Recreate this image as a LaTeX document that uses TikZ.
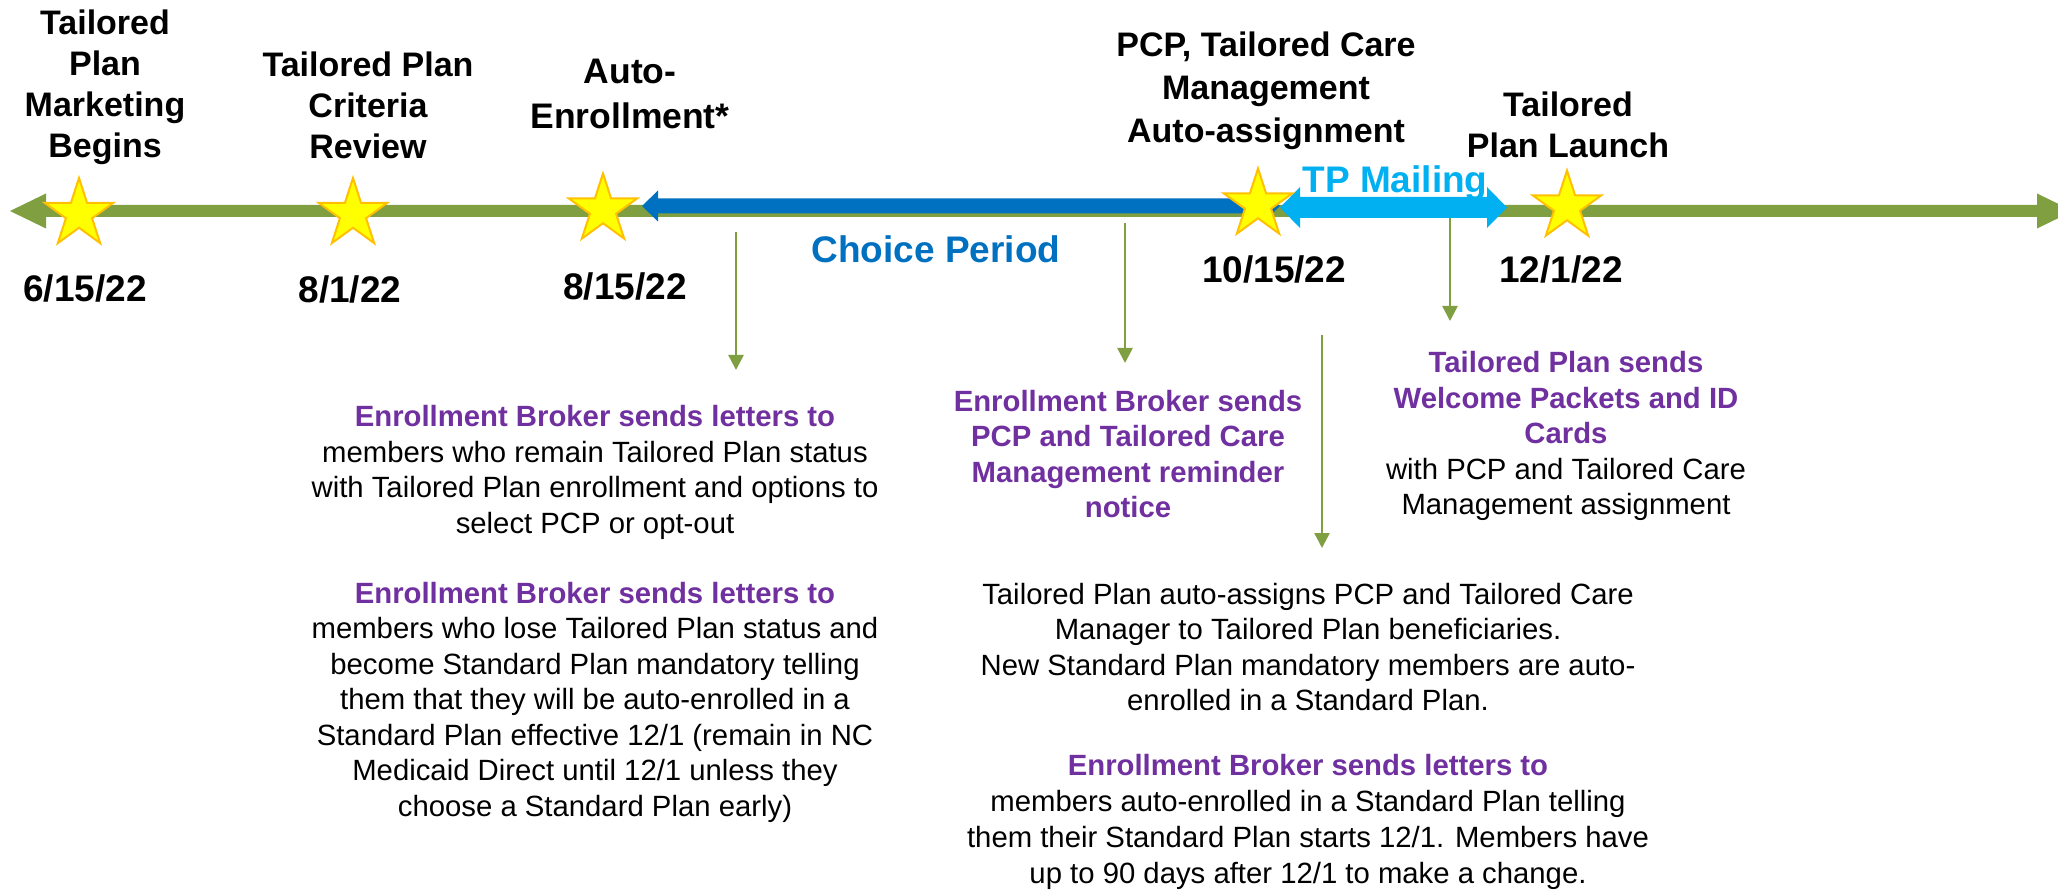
\documentclass[tikz,border=0pt]{standalone}
\usepackage{fontspec}
\setmainfont{Liberation Sans}
\usetikzlibrary{shapes.geometric,arrows.meta}
\definecolor{tlgreen}{HTML}{7F9F40}
\definecolor{tlblue}{HTML}{0070C0}
\definecolor{tllight}{HTML}{00B0F0}
\definecolor{tlpurple}{HTML}{7030A0}
\definecolor{tlgold}{HTML}{FFC000}
\definecolor{tlyellow}{HTML}{FFFF00}
\newcommand\purp[1]{{\color{tlpurple}\bfseries #1}}
\tikzset{
  toplabel/.style={font=\fontsize{34}{41}\selectfont\bfseries, align=center, inner sep=0pt},
  datelabel/.style={font=\fontsize{37}{44}\selectfont\bfseries, anchor=base, inner sep=0pt},
  bigcolour/.style={font=\fontsize{37}{44}\selectfont\bfseries, anchor=base, inner sep=0pt},
  body/.style={font=\fontsize{29.3}{35.5}\selectfont, align=center, inner sep=0pt},
  milestone/.style={star, star points=5, star point ratio=2.618, minimum size=72pt,
    inner sep=0pt, fill=tlyellow, draw=tlgold, line width=2pt},
  vline/.style={draw=tlgreen, line width=2.5pt, -{Triangle[width=15pt,length=15pt]}}
}
\begin{document}
\begin{tikzpicture}[x=1pt,y=-1pt]
\useasboundingbox (0,0) rectangle (2058,890);
\clip (0,0) rectangle (2058,890);
% main timeline
\fill[tlgreen] (10,211) -- (46,193.5) -- (46,205) -- (2037,205) -- (2037,193.5) -- (2073,211)
  -- (2037,228.5) -- (2037,217) -- (46,217) -- (46,228.5) -- cycle;
% choice period arrow
\fill[tlblue] (642,206) -- (658,190.5) -- (658,198.5) -- (1264,198.5) -- (1264,190.5) -- (1280,206)
  -- (1264,221.5) -- (1264,213.5) -- (658,213.5) -- (658,221.5) -- cycle;
% TP mailing arrow
\fill[tllight] (1280,207.5) -- (1300,187) -- (1300,197) -- (1487,197) -- (1487,187) -- (1507,207.5)
  -- (1487,228) -- (1487,218) -- (1300,218) -- (1300,228) -- cycle;
% stars
\node[milestone] (s1) at (79,214) {};
\node[milestone] (s2) at (353,214) {};
\node[milestone] (s3) at (603,209.5) {};
\node[milestone] (s4) at (1258,204.5) {};
\node[milestone] (s5) at (1567,206.5) {};
% top labels
\node[toplabel] (l1) at (105,87) {Tailored\\Plan\\Marketing\\Begins};
\node[toplabel] (l2) at (368,105) {Tailored Plan\\Criteria\\Review};
\node[toplabel, font=\fontsize{35.5}{45}\selectfont\bfseries] (l3) at (630,94) {Auto-\\Enrollment*};
\node[toplabel, font=\fontsize{34}{43}\selectfont\bfseries] (l4) at (1266,91) {PCP, Tailored Care\\Management\\Auto-assignment};
\node[toplabel] (l5) at (1568,125) {Tailored\\Plan Launch};
% dates
\node[datelabel] (d1) at (85,302) {6/15/22};
\node[datelabel] (d2) at (350,303) {8/1/22};
\node[datelabel] (d3) at (625,300) {8/15/22};
\node[datelabel] (d4) at (1274,283) {10/15/22};
\node[datelabel] (d5) at (1561,283) {12/1/22};
\node[bigcolour, text=tlblue] (cp) at (936,263) {Choice Period};
\node[bigcolour, text=tllight] (tp) at (1395,193) {TP Mailing};
% body texts
\node[body] (a1) at (595,472.5) {\purp{Enrollment Broker sends letters to}\\members who remain Tailored Plan status\\with Tailored Plan enrollment and options to\\select PCP or opt-out};
\node[body] (a2) at (595,702) {\purp{Enrollment Broker sends letters to}\\members who lose Tailored Plan status and\\become Standard Plan mandatory telling\\them that they will be auto-enrolled in a\\Standard Plan effective 12/1 (remain in NC\\Medicaid Direct until 12/1 unless they\\choose a Standard Plan early)};
\node[body, text=tlpurple, font=\fontsize{29.3}{35.5}\selectfont\bfseries] (b) at (1128,454) {Enrollment Broker sends\\PCP and Tailored Care\\Management reminder\\notice};
\node[body] (c) at (1566,436) {\purp{Tailored Plan sends}\\\purp{Welcome Packets and ID}\\\purp{Cards}\\with PCP and Tailored Care\\Management assignment};
\node[body] (e1) at (1308,647) {Tailored Plan auto-assigns PCP and Tailored Care\\Manager to Tailored Plan beneficiaries.\\New Standard Plan mandatory members are auto-\\enrolled in a Standard Plan.};
\node[body, font=\fontsize{29.3}{36}\selectfont] (e2) at (1308,822) {\purp{Enrollment Broker sends letters to}\\members auto-enrolled in a Standard Plan telling\\them their Standard Plan starts 12/1. Members have\\up to 90 days after 12/1 to make a change.};
% connectors
\coordinate (v1s) at (736,232); \coordinate (v1e) at (736,370);
\coordinate (v2s) at (1125,223); \coordinate (v2e) at (1125,363);
\coordinate (v3s) at (1450,218); \coordinate (v3e) at (1450,321);
\coordinate (v4s) at (1322,335); \coordinate (v4e) at (1322,548);
\draw[vline] (v1s) -- (v1e);
\draw[vline] (v2s) -- (v2e);
\draw[vline] (v3s) -- (v3e);
\draw[vline] (v4s) -- (v4e);
\end{tikzpicture}
\end{document}
